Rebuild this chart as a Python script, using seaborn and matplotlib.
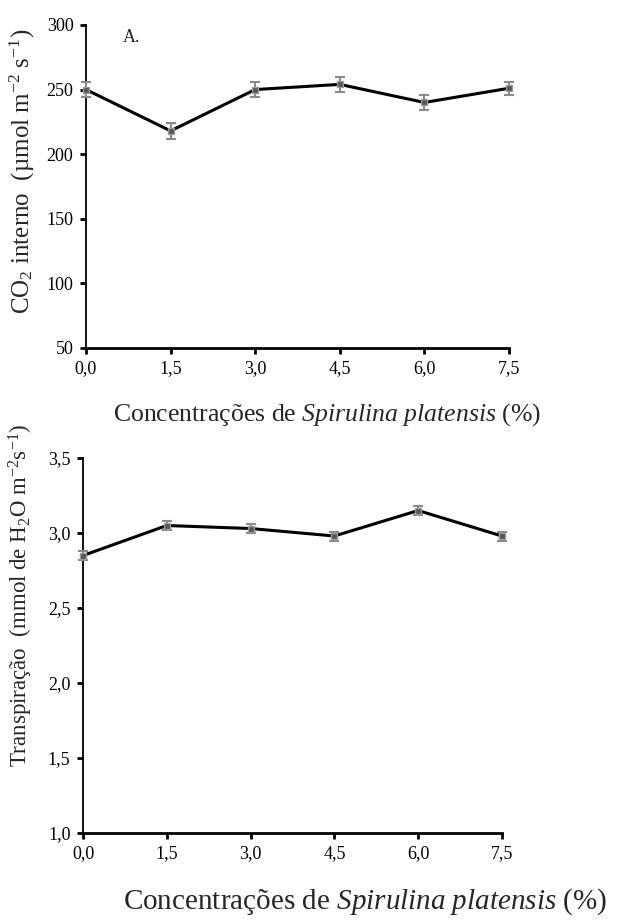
import matplotlib
matplotlib.use('Agg')
import matplotlib.pyplot as plt
import seaborn as sns
import pandas as pd
import numpy as np

# Spirulina concentrations (%)
conc = [0.0, 1.5, 3.0, 4.5, 6.0, 7.5]
tick_labels = ['0,0', '1,5', '3,0', '4,5', '6,0', '7,5']

# A. internal CO2
co2 = [250, 218, 250, 254, 240, 251]
co2_err = [6, 6, 6, 6, 6, 5]

# B. transpiration
transp = [2.85, 3.05, 3.03, 2.98, 3.15, 2.98]
transp_err = [0.03, 0.03, 0.03, 0.03, 0.03, 0.03]

df_a = pd.DataFrame({'conc': conc, 'val': co2, 'err': co2_err})
df_b = pd.DataFrame({'conc': conc, 'val': transp, 'err': transp_err})

sns.set_style('ticks')
plt.rcParams['font.family'] = ['Liberation Serif', 'DejaVu Serif']
plt.rcParams['mathtext.fontset'] = 'custom'
plt.rcParams['mathtext.rm'] = 'Liberation Serif'
plt.rcParams['mathtext.it'] = 'Liberation Serif:italic'

fig = plt.figure(figsize=(6.29, 9.24), dpi=100)
ax1 = fig.add_axes([0.1367, 0.6234, 0.6725, 0.3496])
ax2 = fig.add_axes([0.132, 0.0985, 0.666, 0.4058])

xlab = 'Concentrações de $\\it{Spirulina\\ platensis}$ (%)'


def draw(ax, df, ylim, yticks, ylabels, ylabel, ysize):
    ax.errorbar(df['conc'], df['val'], yerr=df['err'], fmt='none',
                ecolor='#8a8a8a', elinewidth=1.5, capsize=3.5, capthick=1.5, zorder=3)
    sns.lineplot(data=df, x='conc', y='val', ax=ax, color='black', lw=2.2,
                 marker='s', markersize=5, markerfacecolor='#555555',
                 markeredgecolor='#9a9a9a', markeredgewidth=1, zorder=4)
    ax.set_xlim(0, 7.5)
    ax.set_ylim(*ylim)
    ax.set_xticks(conc)
    ax.set_xticklabels(tick_labels)
    ax.set_yticks(yticks)
    ax.set_yticklabels(ylabels)
    ax.set_ylabel(ylabel, fontsize=ysize)
    ax.tick_params(axis='both', labelsize=13, length=4, width=2, direction='out',
                   colors='black', pad=5)
    sns.despine(ax=ax)
    ax.spines['left'].set_linewidth(1.3)
    ax.spines['bottom'].set_linewidth(2.0)
    ax.spines['left'].set_color('black')
    ax.spines['bottom'].set_color('black')
    for ln in ax.lines:
        ln.set_clip_on(False)
    for c in ax.collections:
        c.set_clip_on(False)


draw(ax1, df_a, (50, 300), [50, 100, 150, 200, 250, 300],
     ['50', '100', '150', '200', '250', '300'],
     'CO$_2$ interno  (µmol m$^{-2}$ s$^{-1}$)', 18)
ax1.set_xlabel(xlab, fontsize=18.5)
ax1.text(0.65, 290, 'A.', fontsize=13, va='center', ha='left')

draw(ax2, df_b, (1.0, 3.5), [1.0, 1.5, 2.0, 2.5, 3.0, 3.5],
     ['1,0', '1,5', '2,0', '2,5', '3,0', '3,5'],
     'Transpiração  (mmol de H$_2$O m$^{-2}$s$^{-1}$)', 16.5)
ax2.set_xlabel(xlab, fontsize=21)

# label placement in figure coordinates
ax1.yaxis.set_label_coords(0.036, 0.814, transform=fig.transFigure)
ax2.yaxis.set_label_coords(0.033, 0.356, transform=fig.transFigure)
ax1.xaxis.set_label_coords(0.52, 0.566, transform=fig.transFigure)
ax2.xaxis.set_label_coords(0.58, 0.041, transform=fig.transFigure)
ax1.yaxis.label.set_va('center')
ax2.yaxis.label.set_va('center')

fig.savefig('out.png', dpi=100)
